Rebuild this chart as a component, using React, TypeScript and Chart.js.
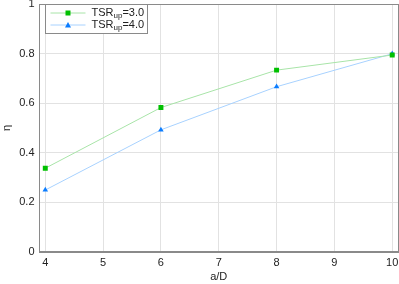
import React, { useEffect, useRef } from "react";
import { Chart, registerables } from "chart.js";

Chart.register(...registerables);

const xValues = [4, 6, 8, 10];
const tsr3 = [0.337, 0.582, 0.733, 0.794];
const tsr4 = [0.249, 0.492, 0.666, 0.799];
const xTicks = [4, 5, 6, 7, 8, 9, 10];
const yTicks = [0, 0.2, 0.4, 0.6, 0.8, 1];
const seriesNames = ["TSR", "TSR"];
const seriesSubs = ["up", "up"];
const seriesSuffix = ["=3.0", "=4.0"];
const xTitle = "a/D";
const yTitle = "η";

const FONT = "'Liberation Sans', Arial, sans-serif";
const greenMarker = "#00c000";
const greenLine = "#a8e4a8";
const blueMarker = "#0a7cff";
const blueLine = "#a8d2ff";

const framePlugin = {
  id: "frame",
  afterDatasetsDraw(chart: any) {
    const ctx = chart.ctx;
    const a = chart.chartArea;
    ctx.save();
    ctx.strokeStyle = "#8a8a8a";
    ctx.lineWidth = 1;
    ctx.strokeRect(Math.round(a.left) - 0.5, Math.round(a.top) + 0.5, Math.round(a.right - a.left), Math.round(a.bottom - a.top));
    ctx.restore();
  },
};

const legendPlugin = {
  id: "customLegend",
  afterDraw(chart: any) {
    const ctx = chart.ctx;
    const area = chart.chartArea;
    const bx = Math.round(area.left) + 5.5;
    const by = Math.round(area.top) + 0.5;
    const bw = 102;
    const bh = 29;
    ctx.save();
    ctx.fillStyle = "#ffffff";
    ctx.fillRect(bx, by, bw, bh);
    ctx.strokeStyle = "#8a8a8a";
    ctx.lineWidth = 1;
    ctx.strokeRect(bx, by, bw, bh);
    const rows = [
      { y: by + 8.5, marker: greenMarker, line: greenLine, style: "rect" },
      { y: by + 20.5, marker: blueMarker, line: blueLine, style: "triangle" },
    ];
    rows.forEach((r, i) => {
      ctx.strokeStyle = r.line;
      ctx.lineWidth = 1;
      ctx.beginPath();
      ctx.moveTo(bx + 5, r.y);
      ctx.lineTo(bx + 40, r.y);
      ctx.stroke();
      ctx.fillStyle = r.marker;
      if (r.style === "rect") {
        ctx.fillRect(bx + 20, r.y - 2.5, 5, 5);
      } else {
        ctx.beginPath();
        ctx.moveTo(bx + 22.5, r.y - 3);
        ctx.lineTo(bx + 25.5, r.y + 2.5);
        ctx.lineTo(bx + 19.5, r.y + 2.5);
        ctx.closePath();
        ctx.fill();
      }
      ctx.fillStyle = "#222222";
      ctx.textBaseline = "middle";
      ctx.textAlign = "left";
      ctx.font = `11px ${FONT}`;
      let tx = bx + 46;
      ctx.fillText(seriesNames[i], tx, r.y);
      tx += ctx.measureText(seriesNames[i]).width;
      ctx.font = `8px ${FONT}`;
      ctx.fillText(seriesSubs[i], tx, r.y + 3);
      tx += ctx.measureText(seriesSubs[i]).width;
      ctx.font = `11px ${FONT}`;
      ctx.fillText(seriesSuffix[i], tx, r.y);
    });
    ctx.restore();
  },
};

export default function App() {
  const ref = useRef<HTMLCanvasElement>(null);
  useEffect(() => {
    document.body.style.margin = "0";
    const chart = new Chart(ref.current!, {
      type: "line",
      data: {
        datasets: [
          {
            label: "TSR_up=3.0",
            data: xValues.map((x, i) => ({ x, y: tsr3[i] })),
            borderColor: greenLine,
            backgroundColor: greenMarker,
            pointBackgroundColor: greenMarker,
            pointBorderColor: greenMarker,
            pointStyle: "rect",
            pointRadius: 3.5,
            pointBorderWidth: 0,
            borderWidth: 1,
          },
          {
            label: "TSR_up=4.0",
            data: xValues.map((x, i) => ({ x, y: tsr4[i] })),
            borderColor: blueLine,
            backgroundColor: blueMarker,
            pointBackgroundColor: blueMarker,
            pointBorderColor: blueMarker,
            pointStyle: "triangle",
            pointRadius: 3.2,
            pointBorderWidth: 0,
            borderWidth: 1,
          },
        ],
      },
      options: {
        animation: false,
        responsive: false,
        devicePixelRatio: 1,
        layout: { autoPadding: false, padding: { top: 4, right: 1, left: 0, bottom: 0 } },
        plugins: { legend: { display: false }, tooltip: { enabled: false } },
        scales: {
          x: {
            type: "linear",
            min: 3.9,
            max: 10.1,
            afterBuildTicks: (s: any) => {
              s.ticks = xTicks.map((v) => ({ value: v }));
            },
            afterFit: (s: any) => {
              s.height = 32.3;
              s.paddingLeft = 0;
              s.paddingRight = 0;
            },
            grid: { color: "#e2e2e2", drawTicks: false },
            border: { color: "#8a8a8a" },
            ticks: {
              color: "#222",
              font: { family: FONT, size: 11 },
              padding: 5,
              maxRotation: 0,
            },
            title: {
              display: true,
              text: xTitle,
              color: "#222",
              font: { family: FONT, size: 11 },
              padding: { top: 0, bottom: 0 },
            },
          },
          y: {
            type: "linear",
            min: 0,
            max: 1,
            afterBuildTicks: (s: any) => {
              s.ticks = yTicks.map((v) => ({ value: v }));
            },
            afterFit: (s: any) => {
              s.width = 39.5;
              s.paddingTop = 0;
              s.paddingBottom = 0;
            },
            grid: { color: "#e2e2e2", drawTicks: false },
            border: { color: "#8a8a8a" },
            ticks: {
              color: "#222",
              font: { family: FONT, size: 11 },
              padding: 5,
              callback: (v: any) => String(Math.round(v * 10) / 10),
            },
            title: {
              display: true,
              text: yTitle,
              color: "#222",
              font: { family: FONT, size: 11 },
              padding: { top: 0, bottom: 0 },
            },
          },
        },
      },
      plugins: [framePlugin, legendPlugin],
    } as any);
    return () => chart.destroy();
  }, []);
  return <canvas ref={ref} width={399} height={284} style={{ display: "block" }} />;
}
